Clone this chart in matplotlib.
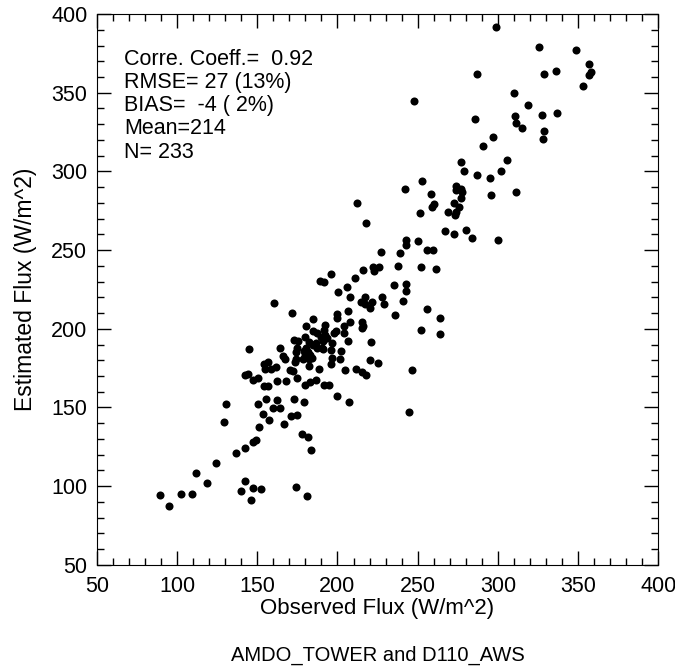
#!/usr/bin/env python3
"""Scatter of estimated vs observed flux (AMDO_TOWER vs D110_AWS)."""
import numpy as np
import matplotlib
matplotlib.use("Agg")
import matplotlib.pyplot as plt
from matplotlib.ticker import MultipleLocator

plt.rcParams["font.family"] = ["Liberation Sans", "DejaVu Sans"]

# observed / estimated flux (W/m^2)
pts = [
    (299, 392), (326, 379), (349, 377), (357, 368), (358, 363.5), (357, 361), (353, 354),
    (336.5, 364), (329, 362), (287, 362), (248, 345), (310, 350), (319, 342), (311, 335),
    (311.5, 331), (315, 327.5), (327.5, 336), (337, 337), (329, 326), (328, 320.5),
    (286, 333), (297, 322), (291, 316), (277, 306), (279, 300), (306, 307), (302, 300),
    (287, 297.5), (295, 296), (253, 294), (242, 289), (258.5, 285.5), (274, 291),
    (277, 289), (274, 288.5), (277.5, 287), (277, 283), (272.5, 280), (276, 277.5),
    (269, 274.5), (274, 274.5), (273, 272), (260.5, 279), (259, 277.5), (251.5, 273.5),
    (295.5, 285), (311.5, 287), (267, 262), (272.5, 260), (280, 262.5), (284, 257.5),
    (300, 256.5), (243, 256.5), (243, 253.5), (250, 256), (227, 249), (239, 248),
    (256, 250), (259.5, 250),
    (212, 280), (218, 267.5), (237.5, 240), (252, 239), (222, 239.5), (222.5, 237),
    (226, 239), (216, 237.5), (211, 232), (196, 234.5), (189, 230.5), (191.5, 229.5),
    (206, 226.5), (200.5, 223.5), (208, 220.5), (217, 220.5), (214.5, 217), (217, 216),
    (220, 213.5), (221.5, 217), (227.5, 220.5), (229, 216), (235.5, 228), (242.5, 228.5),
    (243, 224), (241, 217.5), (236, 208.5), (252, 199.5), (256, 212.5), (160.5, 216.5),
    (171.5, 210), (185, 206.5), (200, 209.5), (200, 207), (206.5, 211), (208, 204),
    (215.5, 204.5), (216, 201.5), (215, 200.5), (204, 201.5), (204, 197.5), (199, 198.5),
    (198, 197.5), (192, 202.5), (191.5, 199.5), (180.5, 201.5), (185, 198.5), (187.5, 197),
    (190, 195), (192.5, 196), (193.5, 194), (180, 194.5), (173, 193), (175.5, 192.5),
    (182.5, 191.5), (185, 189.5), (186.5, 191), (187, 187.5), (190.5, 187.5), (191, 192),
    (196.5, 191), (206.5, 192.5), (221, 191.5), (180.5, 188), (181.5, 185.5), (179, 186),
    (175, 187.5), (174, 185.5), (164, 187.5), (183, 183.5), (184, 181.5), (182, 180.5),
    (179.5, 183.5), (178.5, 180.5), (174, 181), (173.5, 179), (196, 186.5), (196.5, 181.5),
    (196, 177.5), (202, 186), (201.5, 181), (191, 187), (166, 183), (167.5, 180.5),
    (144.5, 187), (154, 177.5), (156.5, 179), (155, 174.5), (158.5, 174.5), (161.5, 176),
    (170.5, 174), (172, 173), (182.5, 176.5), (188.5, 174.5), (174.5, 169), (142.5, 170.5),
    (144, 171), (147.5, 167.5), (150.5, 169), (162, 167), (168, 167), (154, 163.5),
    (156.5, 163.5), (180, 164), (183, 166), (186.5, 167.5), (191.5, 164.5), (195, 164.5),
    (205, 173.5), (211.5, 174.5), (215, 172.5), (218, 170.5), (220, 180), (225, 178.5),
    (246.5, 173.5), (200, 157.5), (207, 153.5), (244.5, 147), (173, 155.5), (179, 153.5),
    (155.5, 155.5), (162.5, 155), (159.5, 149.5), (164, 149.5), (150.5, 152), (153.5, 146),
    (157, 142), (171, 144.5), (175, 145), (166.5, 139.5), (151, 137.5),
    (130.5, 152), (129, 140.5), (149, 129.5), (147, 128), (142.5, 124.5), (137, 121),
    (124.5, 114.5), (111.5, 108.5), (118.5, 102), (89, 94.5), (95, 87.5), (102.5, 95),
    (109, 95), (142.5, 103.5), (140, 97), (147.5, 99), (152.5, 98), (146, 91.5),
    (174, 99.5), (178, 133), (181.5, 131), (183.5, 123), (181, 93.5),
    (264, 207), (264, 196.5), (261.5, 238),
]
observed = np.array([p[0] for p in pts])
estimated = np.array([p[1] for p in pts])

stats_lines = ["Corre. Coeff.=  0.92", "RMSE= 27 (13%)", "BIAS=  -4 ( 2%)",
               "Mean=214", "N= 233"]

fig = plt.figure(figsize=(6.75, 6.70), dpi=100)
ax = fig.add_axes([0.1437, 0.157, 0.8313, 0.822])
ax.plot(observed, estimated, "o", color="black", markersize=5.8, markeredgewidth=0)

ax.set_xlim(50, 400)
ax.set_ylim(50, 400)
ax.xaxis.set_major_locator(MultipleLocator(50))
ax.yaxis.set_major_locator(MultipleLocator(50))
ax.xaxis.set_minor_locator(MultipleLocator(10))
ax.yaxis.set_minor_locator(MultipleLocator(10))
ax.tick_params(which="both", direction="in", top=True, right=True, labelsize=15.5)
ax.tick_params(which="major", length=10, width=1)
ax.tick_params(which="minor", length=5, width=1)
ax.tick_params(axis="x", pad=8)
ax.tick_params(axis="y", pad=7)

ax.set_xlabel("Observed Flux (W/m^2)", fontsize=16, labelpad=1)
ax.set_ylabel("Estimated Flux (W/m^2)", fontsize=16.5, labelpad=10)

for i, line in enumerate(stats_lines):
    ax.text(0.048, 0.9083 - i * 0.0423, line, transform=ax.transAxes,
            fontsize=15.5, va="baseline", ha="left")

fig.text(0.5 * (0.1437 + 0.975), 0.0224, "AMDO_TOWER and D110_AWS",
         fontsize=14.5, ha="center", va="center")

fig.savefig("out.png", dpi=100)
